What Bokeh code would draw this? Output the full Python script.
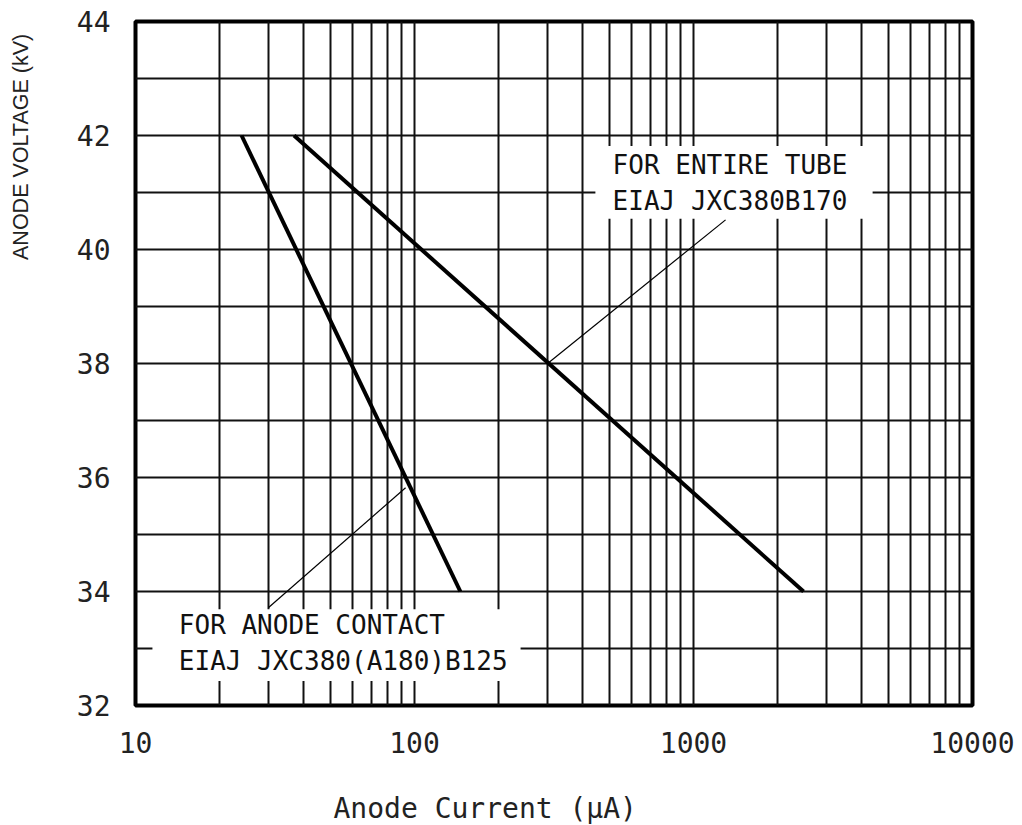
from bokeh.plotting import figure
from bokeh.layouts import row, column
from bokeh.models import Range1d, FixedTicker, PrintfTickFormatter
from bokeh.core.properties import value
from bokeh.embed import file_html
from bokeh.resources import INLINE
import math

# ---- data ----
voltage_kv = [34, 42]
anode_contact_ua = [146, 24]
entire_tube_ua = [2480, 37]

x_major_ticks = [10, 100, 1000, 10000]
x_tick_labels = ["10", "100", "1000", "10000"]
y_major_ticks = [32, 34, 36, 38, 40, 42, 44]
y_minor_ticks = [33, 35, 37, 39, 41, 43]
x_minor_ticks = [m * d for d in (10, 100, 1000) for m in range(2, 10)]

x_title = "Anode Current (\u03bcA)"
y_title = "ANODE VOLTAGE (kV)"
tube_text = ["FOR ENTIRE TUBE", "EIAJ JXC380B170"]
contact_text = ["FOR ANODE CONTACT", "EIAJ JXC380(A180)B125"]

# annotation placement (data coordinates)
tube_box = dict(left=445, right=4385, bottom=40.54, top=41.815)
contact_box = dict(left=11.5, right=240, bottom=32.43, top=33.69)
tube_text_x, tube_text_y = 513, [41.48, 40.85]
contact_text_x, contact_text_y = 14.3, [33.41, 32.78]
tube_leader = ([300, 1303], [38, 40.52])
contact_leader = ([92.9, 30], [35.82, 33.72])

MONO = "DejaVu Sans Mono"
W = 1022
YT_W = 40        # strip holding the y title
MAIN_H = 780
XT_H = 45        # strip holding the x title

p = figure(width=W - YT_W, height=MAIN_H, x_axis_type="log",
           x_range=Range1d(10, 10000), y_range=Range1d(32, 44),
           output_backend="svg", toolbar_location=None,
           min_border_left=135 - YT_W, min_border_right=50,
           min_border_top=21, min_border_bottom=MAIN_H - 705)
p.background_fill_color = "white"
p.border_fill_color = "white"
p.outline_line_color = "black"
p.outline_line_width = 4

# axes
p.xaxis.ticker = FixedTicker(ticks=x_major_ticks, minor_ticks=x_minor_ticks)
p.xaxis.major_label_overrides = {t: l for t, l in zip(x_major_ticks, x_tick_labels)}
p.yaxis.ticker = FixedTicker(ticks=y_major_ticks, minor_ticks=y_minor_ticks)
p.yaxis.formatter = PrintfTickFormatter(format="%d")
for ax in (p.xaxis, p.yaxis):
    ax.axis_line_color = None
    ax.major_tick_line_color = None
    ax.minor_tick_line_color = None
    ax.major_tick_in = 0
    ax.major_tick_out = 0
    ax.minor_tick_in = 0
    ax.minor_tick_out = 0
    ax.major_label_text_font = MONO
    ax.major_label_text_font_size = "28px"
    ax.major_label_text_color = "#222222"
p.xaxis.major_label_standoff = 26
p.yaxis.major_label_standoff = 25

# grids
for g in (p.xgrid, p.ygrid):
    g.grid_line_color = "#111111"
    g.grid_line_width = 2
    g.grid_line_alpha = 1
    g.minor_grid_line_color = "#111111"
    g.minor_grid_line_width = 2
p.xgrid.ticker = p.xaxis[0].ticker
p.ygrid.ticker = p.yaxis[0].ticker

# white annotation boxes over grid
p.quad(left=[tube_box["left"], contact_box["left"]],
       right=[tube_box["right"], contact_box["right"]],
       bottom=[tube_box["bottom"], contact_box["bottom"]],
       top=[tube_box["top"], contact_box["top"]],
       fill_color="white", line_color=None)

# leader lines
p.line(tube_leader[0], tube_leader[1], line_color="black", line_width=1.2)
p.line(contact_leader[0], contact_leader[1], line_color="black", line_width=1.2)

# data lines
p.line(anode_contact_ua, voltage_kv, line_color="black", line_width=4)
p.line(entire_tube_ua, voltage_kv, line_color="black", line_width=4)

# annotation text
p.text(x=[tube_text_x] * 2, y=tube_text_y, text=tube_text,
       text_font=value(MONO), text_font_size="26px", text_color="#111111",
       text_baseline="middle", text_align="left")
p.text(x=[contact_text_x] * 2, y=contact_text_y, text=contact_text,
       text_font=value(MONO), text_font_size="26px", text_color="#111111",
       text_baseline="middle", text_align="left")


def strip(width, height):
    f = figure(width=width, height=height, x_range=Range1d(0, width),
               y_range=Range1d(0, height), output_backend="svg",
               toolbar_location=None, x_axis_location=None, y_axis_location=None,
               min_border=0)
    f.grid.visible = False
    f.outline_line_color = None
    f.background_fill_color = "white"
    f.border_fill_color = "white"
    return f


# y-axis title strip (title sits near the top, as in the reference)
yt = strip(YT_W, MAIN_H)
yt.text(x=[20.5], y=[MAIN_H - 143], text=[y_title], angle=math.pi / 2,
        text_font=value("Liberation Sans"), text_font_size="21.5px",
        text_color="#222222", text_align="center", text_baseline="middle")

# x-axis title strip (title is left of centre, as in the reference)
xt = strip(W, XT_H)
xt.text(x=[333], y=[17], text=[x_title],
        text_font=value(MONO), text_font_size="28px", text_color="#222222",
        text_align="left", text_baseline="alphabetic")

layout = column(row(yt, p, spacing=0), xt, spacing=0)
open("out.html", "w").write(file_html(layout, INLINE))
